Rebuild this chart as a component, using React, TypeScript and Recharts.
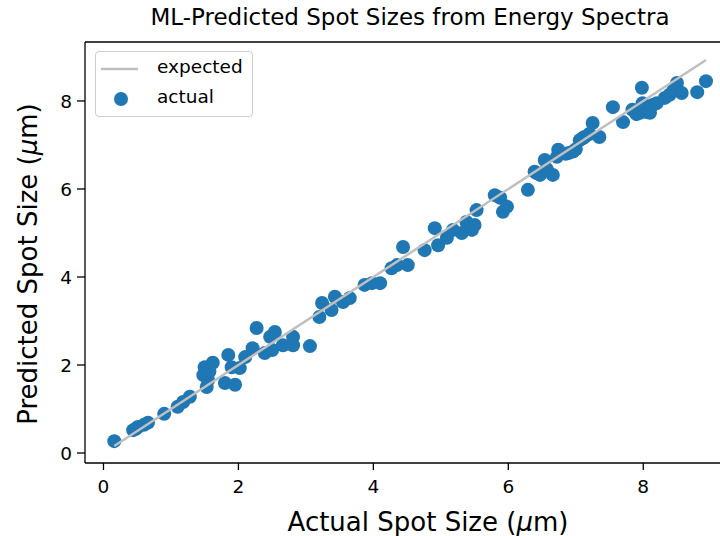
import React from "react";
import {
  ScatterChart,
  Scatter,
  XAxis,
  YAxis,
  Legend,
  ReferenceLine,
} from "recharts";

const actualSize = [
  0.16, 0.44, 0.48, 0.51, 0.6, 0.66, 0.9, 1.1, 1.18, 1.28, 1.48, 1.53, 1.55,
  1.57, 1.5, 1.62, 1.8, 1.95, 1.85, 1.9, 2.02, 2.1, 2.21, 2.27, 2.39, 2.47,
  2.5, 2.54, 2.66, 2.81, 2.81, 3.06, 3.2, 3.24, 3.38, 3.43, 3.55, 3.65, 3.87,
  3.98, 4.1, 4.27, 4.35, 4.44, 4.51, 4.76, 4.91, 4.96, 5.09, 5.18, 5.31, 5.38,
  5.4, 5.45, 5.46, 5.5, 5.53, 5.8, 5.88, 5.92, 5.98, 6.29, 6.39, 6.42, 6.47,
  6.54, 6.57, 6.66, 6.72, 6.74, 6.85, 6.9, 6.96, 7.0, 7.06, 7.1, 7.13, 7.2,
  7.25, 7.35, 7.55, 7.7, 7.84, 7.9, 7.95, 7.98, 7.99, 8.0, 8.05, 8.1, 8.14,
  8.2, 8.32, 8.39, 8.45, 8.5, 8.57, 8.8, 8.93,
];

const predictedSize = [
  0.27, 0.52, 0.55, 0.59, 0.64, 0.69, 0.89, 1.05, 1.16, 1.28, 1.77, 1.5, 1.66,
  1.85, 1.95, 2.05, 1.59, 1.55, 2.23, 1.95, 1.93, 2.18, 2.38, 2.84, 2.27, 2.64,
  2.34, 2.75, 2.45, 2.64, 2.45, 2.43, 3.09, 3.41, 3.25, 3.55, 3.43, 3.52, 3.82,
  3.86, 3.86, 4.2, 4.27, 4.68, 4.27, 4.61, 5.11, 4.72, 4.89, 5.07, 5.0, 5.25,
  5.15, 5.1, 5.07, 5.18, 5.52, 5.86, 5.8, 5.48, 5.6, 5.98, 6.39, 6.36, 6.32,
  6.66, 6.45, 6.32, 6.73, 6.89, 6.8, 6.82, 6.85, 6.9, 7.11, 7.15, 7.18, 7.25,
  7.5, 7.18, 7.86, 7.52, 7.8, 7.7, 7.73, 8.3, 7.95, 7.85, 7.75, 7.73, 7.91,
  7.95, 8.07, 8.14, 8.25, 8.41, 8.18, 8.2, 8.45,
];

// y = x reference, from smallest to largest actual size
const expectedEnds = [0.16, 8.93];

const xTicks = [0, 2, 4, 6, 8];
const yTicks = [0, 2, 4, 6, 8];

const X_DOMAIN = [-0.274, 9.36];
const Y_DOMAIN = [-0.227, 9.34];

const BLUE = "#1f77b4";
const GREY = "#bfbfbf";
const FONT = "'DejaVu Sans', sans-serif";

const points = actualSize.map((x, i) => ({ x, y: predictedSize[i] }));
const expected = expectedEnds.map((v) => ({ x: v, y: v }));

const Dot = (props: any) => (
  <circle cx={props.cx} cy={props.cy} r={7} fill={BLUE} />
);

const LegendBox = () => (
  <div
    style={{
      width: 156,
      height: 64,
      border: "1px solid #cccccc",
      borderRadius: 4,
      background: "rgba(255,255,255,0.8)",
      fontFamily: FONT,
      fontSize: 18.5,
      color: "#000",
      position: "relative",
    }}
  >
    <svg width={40} height={60} style={{ position: "absolute", left: 4, top: 0 }}>
      <line x1={1} y1={17} x2={38} y2={17} stroke={GREY} strokeWidth={2.5} />
      <circle cx={21} cy={47} r={7} fill={BLUE} />
    </svg>
    <div style={{ position: "absolute", left: 61, top: 4, lineHeight: "22px" }}>
      expected
    </div>
    <div style={{ position: "absolute", left: 61, top: 34, lineHeight: "22px" }}>
      actual
    </div>
  </div>
);

export default function App() {
  return (
    <div
      style={{
        position: "fixed",
        left: 0,
        top: 0,
        width: 720,
        height: 536,
        overflow: "hidden",
        background: "#fff",
      }}
    >
      <div
        style={{
          position: "absolute",
          left: 0,
          top: 4,
          width: 820,
          textAlign: "center",
          fontFamily: FONT,
          fontSize: 23,
          color: "#000",
        }}
      >
        ML-Predicted Spot Sizes from Energy Spectra
      </div>
      <ScatterChart
        width={760}
        height={536}
        margin={{ top: 42, right: 25, bottom: 0, left: 0 }}
      >
        <XAxis
          type="number"
          dataKey="x"
          domain={X_DOMAIN}
          ticks={xTicks}
          allowDataOverflow
          height={73}
          stroke="#000"
          tickSize={7}
          tickMargin={10}
          tick={{ fill: "#000", fontSize: 18.5, fontFamily: FONT }}
          axisLine={{ stroke: "#000", strokeWidth: 1.3 }}
          tickLine={{ stroke: "#000", strokeWidth: 1.3 }}
          label={{
            content: () => (
              <text
                x={428}
                y={531}
                textAnchor="middle"
                fontFamily={FONT}
                fontSize={26}
                fill="#000"
              >
                Actual Spot Size (<tspan fontStyle="italic">μ</tspan>m)
              </text>
            ),
          }}
        />
        <YAxis
          type="number"
          dataKey="y"
          domain={Y_DOMAIN}
          ticks={yTicks}
          allowDataOverflow
          width={85}
          tickSize={8}
          tickMargin={5}
          tick={{ fill: "#000", fontSize: 18.5, fontFamily: FONT }}
          axisLine={{ stroke: "#000", strokeWidth: 1.3 }}
          tickLine={{ stroke: "#000", strokeWidth: 1.3 }}
          label={{
            content: () => (
              <text
                x={37}
                y={264}
                transform="rotate(-90, 37, 264)"
                textAnchor="middle"
                fontFamily={FONT}
                fontSize={26}
                fill="#000"
              >
                Predicted Spot Size (<tspan fontStyle="italic">μ</tspan>m)
              </text>
            ),
          }}
        />
        <ReferenceLine
          y={Y_DOMAIN[1]}
          stroke="#000"
          strokeWidth={1.3}
          ifOverflow="visible"
        />
        <Legend
          layout="vertical"
          align="center"
          verticalAlign="middle"
          content={() => <LegendBox />}
          wrapperStyle={{ left: 95, top: 51, width: 158, height: 66 }}
        />
        <Scatter
          name="actual"
          data={points}
          fill={BLUE}
          shape={Dot}
          isAnimationActive={false}
        />
        <Scatter
          name="expected"
          data={expected}
          line={{ stroke: GREY, strokeWidth: 2.5 }}
          shape={() => null}
          isAnimationActive={false}
        />
      </ScatterChart>
    </div>
  );
}
